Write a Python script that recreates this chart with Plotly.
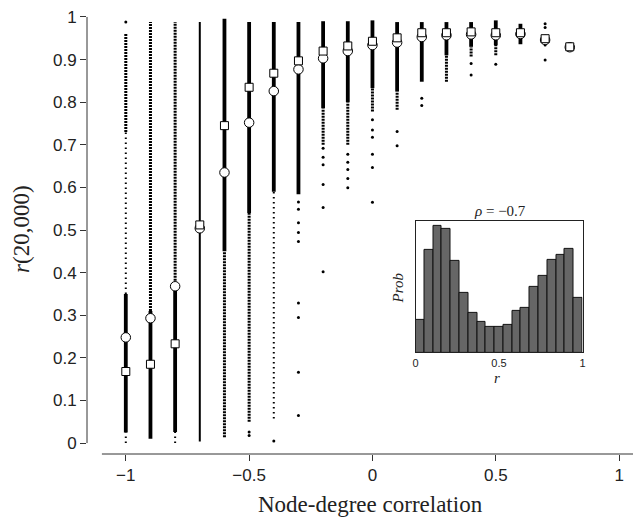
import numpy as np
import plotly.graph_objects as go

# ---------------- data ----------------
rho_values = [-1.0, -0.9, -0.8, -0.7, -0.6, -0.5, -0.4, -0.3, -0.2, -0.1,
              0.0, 0.1, 0.2, 0.3, 0.4, 0.5, 0.6, 0.7, 0.8]

# mean (circles) and median (squares) of r(20,000) per correlation value
mean_r = [0.248, 0.293, 0.368, 0.504, 0.635, 0.752, 0.826, 0.877, 0.903, 0.920,
          0.934, 0.940, 0.953, 0.957, 0.959, 0.957, 0.960, 0.946, 0.929]
median_r = [0.168, 0.185, 0.233, 0.512, 0.745, 0.835, 0.868, 0.897, 0.920, 0.932,
            0.943, 0.951, 0.963, 0.963, 0.965, 0.963, 0.963, 0.949, 0.930]

# ranges of r covered by (almost) continuous runs of realisations
solid_x = [-1.0, -0.9, -0.8, -0.6, -0.5, -0.4, -0.3, -0.2, -0.1, 0.0, 0.1, 0.2, 0.3, 0.4, 0.5, 0.6]
solid_lo = [0.025, 0.010, 0.026, 0.450, 0.540, 0.590, 0.584, 0.786, 0.800, 0.833, 0.825, 0.848,
            0.910, 0.930, 0.934, 0.936]
solid_hi = [0.350, 0.310, 0.360, 0.996, 0.988, 0.988, 0.988, 0.990, 0.990, 0.992, 0.988, 0.988,
            0.988, 0.988, 0.992, 0.984]

# dense but dotted runs
dense_x = [-1.0, -0.9, -0.8, -0.6, -0.5, -0.2, -0.1, 0.0, 0.1, 0.3, 0.4, 0.5]
dense_lo = [0.730, 0.310, 0.360, 0.014, 0.050, 0.700, 0.700, 0.778, 0.782, 0.848, 0.907, 0.910]
dense_hi = [0.961, 0.988, 0.988, 0.450, 0.540, 0.786, 0.800, 0.833, 0.825, 0.910, 0.930, 0.934]

# thin continuous run
thin_x = [-0.7]
thin_lo = [0.004]
thin_hi = [0.988]

# sparse dotted runs
sparse_x = [-1.0, -1.0, -0.8, -0.4]
sparse_lo = [0.000, 0.350, 0.000, 0.058]
sparse_hi = [0.025, 0.730, 0.026, 0.590]

# isolated realisations
outlier_x = [-1.0, -0.5, -0.5, -0.4,
             -0.3, -0.3, -0.3, -0.3, -0.3, -0.3, -0.3, -0.3, -0.3,
             -0.2, -0.2, -0.2, -0.2, -0.2, -0.2,
             -0.1, -0.1, -0.1, -0.1, -0.1,
             0.0, 0.0, 0.0, 0.0, 0.0, 0.0,
             0.1, 0.1, 0.2, 0.2, 0.4, 0.4, 0.5,
             0.7, 0.7, 0.7, 0.7]
outlier_y = [0.988, 0.026, 0.018, 0.005,
             0.566, 0.549, 0.517, 0.494, 0.473, 0.329, 0.295, 0.166, 0.065,
             0.692, 0.671, 0.653, 0.607, 0.553, 0.402,
             0.678, 0.659, 0.642, 0.621, 0.599,
             0.759, 0.735, 0.718, 0.678, 0.647, 0.565,
             0.731, 0.698, 0.809, 0.792, 0.891, 0.864, 0.889,
             0.984, 0.975, 0.934, 0.899]

# inset histogram for rho = -0.7
hist_prob = [0.0255, 0.0815, 0.1007, 0.0983, 0.0726, 0.0473, 0.0310, 0.0242, 0.0200, 0.0200,
             0.0218, 0.0326, 0.0355, 0.0518, 0.0605, 0.0736, 0.0776, 0.0823, 0.0431]

x_tick_vals = [-1, -0.5, 0, 0.5, 1]
y_tick_vals = [0, 0.1, 0.2, 0.3, 0.4, 0.5, 0.6, 0.7, 0.8, 0.9, 1]
inset_tick_vals = [0, 0.5, 1]
inset_tick_text = ["0", "0.5", "1"]


def segments(xs, los, his):
    sx, sy = [], []
    for x, lo, hi in zip(xs, los, his):
        sx += [x, x, None]
        sy += [lo, hi, None]
    return sx, sy


fig = go.Figure()

sx, sy = segments(sparse_x, sparse_lo, sparse_hi)
fig.add_trace(go.Scatter(x=sx, y=sy, mode="lines", connectgaps=False, hoverinfo="skip",
                         line=dict(color="black", width=2, dash="1.5px,3.5px")))
sx, sy = segments(dense_x, dense_lo, dense_hi)
fig.add_trace(go.Scatter(x=sx, y=sy, mode="lines", connectgaps=False, hoverinfo="skip",
                         line=dict(color="black", width=3, dash="2px,1px")))
sx, sy = segments(thin_x, thin_lo, thin_hi)
fig.add_trace(go.Scatter(x=sx, y=sy, mode="lines", connectgaps=False, hoverinfo="skip",
                         line=dict(color="black", width=2)))
sx, sy = segments(solid_x, solid_lo, solid_hi)
fig.add_trace(go.Scatter(x=sx, y=sy, mode="lines", connectgaps=False, hoverinfo="skip",
                         line=dict(color="black", width=3.8)))
fig.add_trace(go.Scatter(x=outlier_x, y=outlier_y, mode="markers", hoverinfo="skip",
                         marker=dict(color="black", size=3)))

fig.add_trace(go.Scatter(x=rho_values, y=mean_r, mode="markers",
                         marker=dict(symbol="circle", size=9.5, color="white",
                                     line=dict(color="black", width=1))))
fig.add_trace(go.Scatter(x=rho_values, y=median_r, mode="markers",
                         marker=dict(symbol="square", size=8, color="white",
                                     line=dict(color="black", width=1))))

# inset histogram
edges = np.linspace(0, 1, len(hist_prob) + 1)
centers = (edges[:-1] + edges[1:]) / 2
fig.add_trace(go.Bar(x=centers, y=hist_prob, width=edges[1] - edges[0],
                     marker=dict(color="#666666", line=dict(color="#111111", width=1)),
                     xaxis="x2", yaxis="y2"))

# the page body has an 8px margin, so the figure is drawn 8px smaller
OFF = 8
W, H = 641 - OFF, 528 - OFF
ML, MR, MT, MB = 87 - OFF, 0, 10 - OFF, 528 - 454
pw, ph = W - ML - MR, H - MT - MB


def px_x(p):  # reference-image pixel -> paper x
    return (p - OFF - ML) / pw


def px_y(p):  # reference-image pixel -> paper y
    return (H - MB - (p - OFF)) / ph


serif = "Liberation Serif"
sans = "Liberation Sans"

fig.update_layout(
    width=W, height=H,
    margin=dict(l=ML, r=MR, t=MT, b=MB, pad=0),
    paper_bgcolor="white", plot_bgcolor="white",
    showlegend=False,
    bargap=0,
    xaxis=dict(range=[-1.1573, 1.0766], tickvals=x_tick_vals, ticks="outside", ticklen=6,
               tickcolor="#333", showline=False, showgrid=False, zeroline=False,
               ticklabeloverflow="allow",
               tickfont=dict(family=sans, size=17, color="#222")),
    yaxis=dict(range=[-0.0256, 1.0093], tickvals=y_tick_vals, ticks="outside", ticklen=6,
               tickcolor="#333", showline=False, showgrid=False, zeroline=False,
               ticklabeloverflow="allow",
               tickfont=dict(family=sans, size=17, color="#222")),
    xaxis2=dict(domain=[px_x(417.3), px_x(585.2)], anchor="y2", range=[0, 1],
                tickvals=inset_tick_vals, ticktext=inset_tick_text, ticks="",
                showline=True, mirror=True, linecolor="#222", linewidth=1,
                showgrid=False, zeroline=False,
                tickfont=dict(family=sans, size=11, color="#222")),
    yaxis2=dict(domain=[px_y(351.7), px_y(219.3)], anchor="x2", range=[0, 0.1044],
                showticklabels=False, ticks="", showline=True, mirror=True,
                linecolor="#222", linewidth=1, showgrid=False, zeroline=False),
    shapes=[
        dict(type="line", xref="paper", yref="y", x0=0, x1=0, y0=0, y1=1,
             line=dict(color="#333", width=1)),
        dict(type="line", xref="paper", yref="paper", x0=px_x(102), x1=1, y0=0, y1=0,
             line=dict(color="#333", width=1)),
    ],
    annotations=[
        dict(text="Node-degree correlation", xref="paper", yref="paper",
             x=px_x(372), y=px_y(505), showarrow=False, xanchor="center", yanchor="middle",
             font=dict(family=serif, size=23, color="#222")),
        dict(text="<i>r</i>(20,000)", xref="paper", yref="paper",
             x=px_x(21), y=px_y(227), showarrow=False, xanchor="center", yanchor="middle",
             textangle=-90, font=dict(family=serif, size=23, color="#222")),
        dict(text="<i>ρ</i> = −0.7", xref="paper", yref="paper",
             x=px_x(502), y=px_y(209), showarrow=False, xanchor="center", yanchor="middle",
             font=dict(family=serif, size=15, color="#222")),
        dict(text="<i>Prob</i>", xref="paper", yref="paper",
             x=px_x(400), y=px_y(287), showarrow=False, xanchor="center", yanchor="middle",
             textangle=-90, font=dict(family=serif, size=15, color="#222")),
        dict(text="<i>r</i>", xref="paper", yref="paper",
             x=px_x(499), y=px_y(377), showarrow=False, xanchor="center", yanchor="middle",
             font=dict(family=serif, size=15, color="#222")),
    ],
)

fig.write_html("out.html")
